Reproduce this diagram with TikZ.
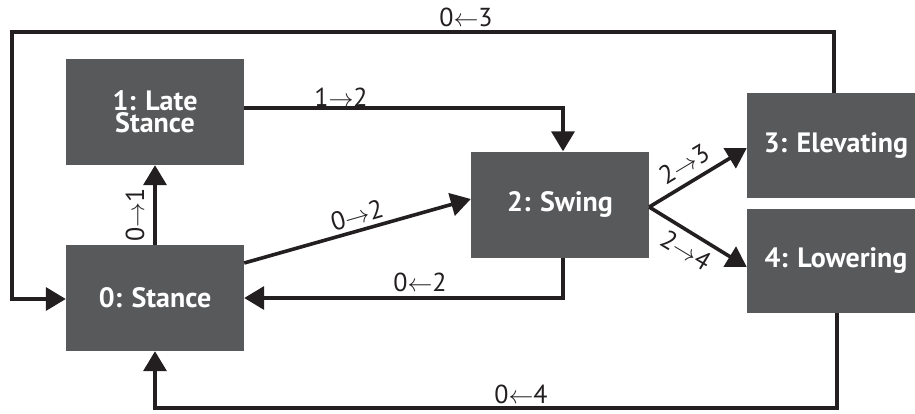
\documentclass[tikz,border=0pt]{standalone}
\usepackage{fontspec}
\setmainfont{PT Sans}
\usetikzlibrary{arrows.meta}
\definecolor{boxgray}{RGB}{88,89,91}
\definecolor{ink}{RGB}{35,31,32}
\begin{document}
\begin{tikzpicture}[x=1pt,y=-1pt,
  state/.style={fill=boxgray, draw=none, minimum width=178pt, minimum height=106pt,
    inner sep=0pt, text=white, font=\fontsize{28}{22}\selectfont\bfseries, align=center},
  link/.style={draw=ink, line width=3.6pt, line join=miter},
  arr/.style={link, -{Triangle[length=20pt,width=23pt]}},
  lbl/.style={text=ink, inner sep=0pt, font=\fontsize{26}{26}\selectfont}]
\useasboundingbox (0,0) rectangle (915,413);
\clip (0,0) rectangle (915,413);

% states
\node[state] (late)  at (155,112)   {1: Late\\Stance};
\node[state] (stance) at (155,298)  {0: Stance};
\node[state] (swing) at (560,204.5) {2: Swing};
\node[state, minimum height=105pt] (elev)  at (836,145.5) {3: Elevating};
\node[state, minimum height=104pt] (lower) at (836,261)   {4: Lowering};

% corner points of the long return paths
\coordinate (topR) at (834,32);
\coordinate (topL) at (12,32);
\coordinate (botR) at (837,408);

% transitions
\draw[arr] (stance.north) -- (late.south);
\draw[arr] (late.east |- 0,108) -| (swing.north -| 563,0);
\draw[arr] (stance.east |- 0,263) -- (swing.west |- 0,199);
\draw[arr] (swing.south -| 563,0) |- (stance.east |- 0,298);
\draw[arr] (swing.east |- 0,207) -- (elev.west |- 0,148);
\draw[arr] (swing.east |- 0,207) -- (lower.west |- 0,267);
\draw[arr] (elev.north -| topR) -- (topR) -- (topL) |- (stance.west |- 0,299);
\draw[arr] (lower.south -| botR) -- (botR) -| (stance.south);

% transition labels
\node[lbl] (l03) at (466,17)  {0$\leftarrow$3};
\node[lbl] (l12) at (341,97)  {1$\rightarrow$2};
\node[lbl] (l02b) at (420,282) {0$\leftarrow$2};
\node[lbl] (l04) at (521,394) {0$\leftarrow$4};
\node[lbl, rotate=90]  (l01) at (135,215) {0$\rightarrow$1};
\node[lbl, rotate=16]  (l02) at (357,215) {0$\rightarrow$2};
\node[lbl, rotate=31]  (l23) at (684,164) {2$\rightarrow$3};
\node[lbl, rotate=-31] (l24) at (686,250) {2$\rightarrow$4};
\end{tikzpicture}
\end{document}
